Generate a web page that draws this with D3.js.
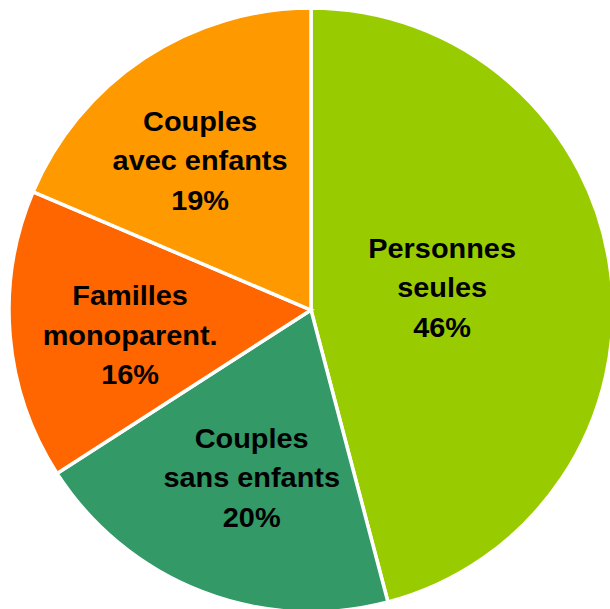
<!DOCTYPE html>
<html><head><meta charset="utf-8">
<script src="https://cdn.jsdelivr.net/npm/d3@7"></script>
<style>html,body{margin:0;padding:0;background:#fff;overflow:hidden}</style>
</head><body>
<svg id="chart" width="610" height="609"></svg>
<script>
const categories = ["Personnes seules", "Couples sans enfants", "Familles monoparent.", "Couples avec enfants"];
const labelLines = [["Personnes", "seules"], ["Couples", "sans enfants"], ["Familles", "monoparent."], ["Couples", "avec enfants"]];
const values = [45.9, 20.0, 15.5, 18.6];
const percentLabels = ["46%", "20%", "16%", "19%"];
const colors = ["#99CC00", "#339966", "#FF6600", "#FF9900"];

const svg = d3.select("#chart");
const cx = 311, cy = 310, R = 302;
const g = svg.append("g").attr("transform", `translate(${cx},${cy})`);

const pie = d3.pie().sort(null).value(d => d.v);
const data = pie(values.map((v, i) => ({v, i})));
const arc = d3.arc().innerRadius(0).outerRadius(R);

g.selectAll("path").data(data).join("path")
  .attr("d", arc)
  .attr("fill", d => colors[d.data.i])
  .attr("stroke", "#fff")
  .attr("stroke-width", 3.5)
  .attr("stroke-linejoin", "miter");

// label placement (style): radius fraction and angular nudge in degrees
const labelFrac = [0.44, 0.59, 0.605, 0.615];
const labelNudge = [-2, -1.8, -3.2, -3.2];
const lineH = 39.5;
data.forEach(d => {
  const i = d.data.i;
  const mid = (d.startAngle + d.endAngle) / 2 + labelNudge[i] * Math.PI / 180;
  const r = R * labelFrac[i];
  const x = Math.sin(mid) * r, y = -Math.cos(mid) * r;
  const lines = labelLines[i].concat([percentLabels[i]]);
  const t = g.append("text")
    .attr("transform", `translate(${x},${y}) scale(1.07,1)`)
    .attr("text-anchor", "middle")
    .attr("font-family", "Liberation Sans, Arial, sans-serif")
    .attr("font-weight", "bold")
    .attr("font-size", 27)
    .attr("fill", "#000");
  lines.forEach((s, k) => {
    t.append("tspan").attr("x", 0)
      .attr("y", (k - (lines.length - 1) / 2) * lineH + 9)
      .text(s);
  });
});
</script>
</body></html>
